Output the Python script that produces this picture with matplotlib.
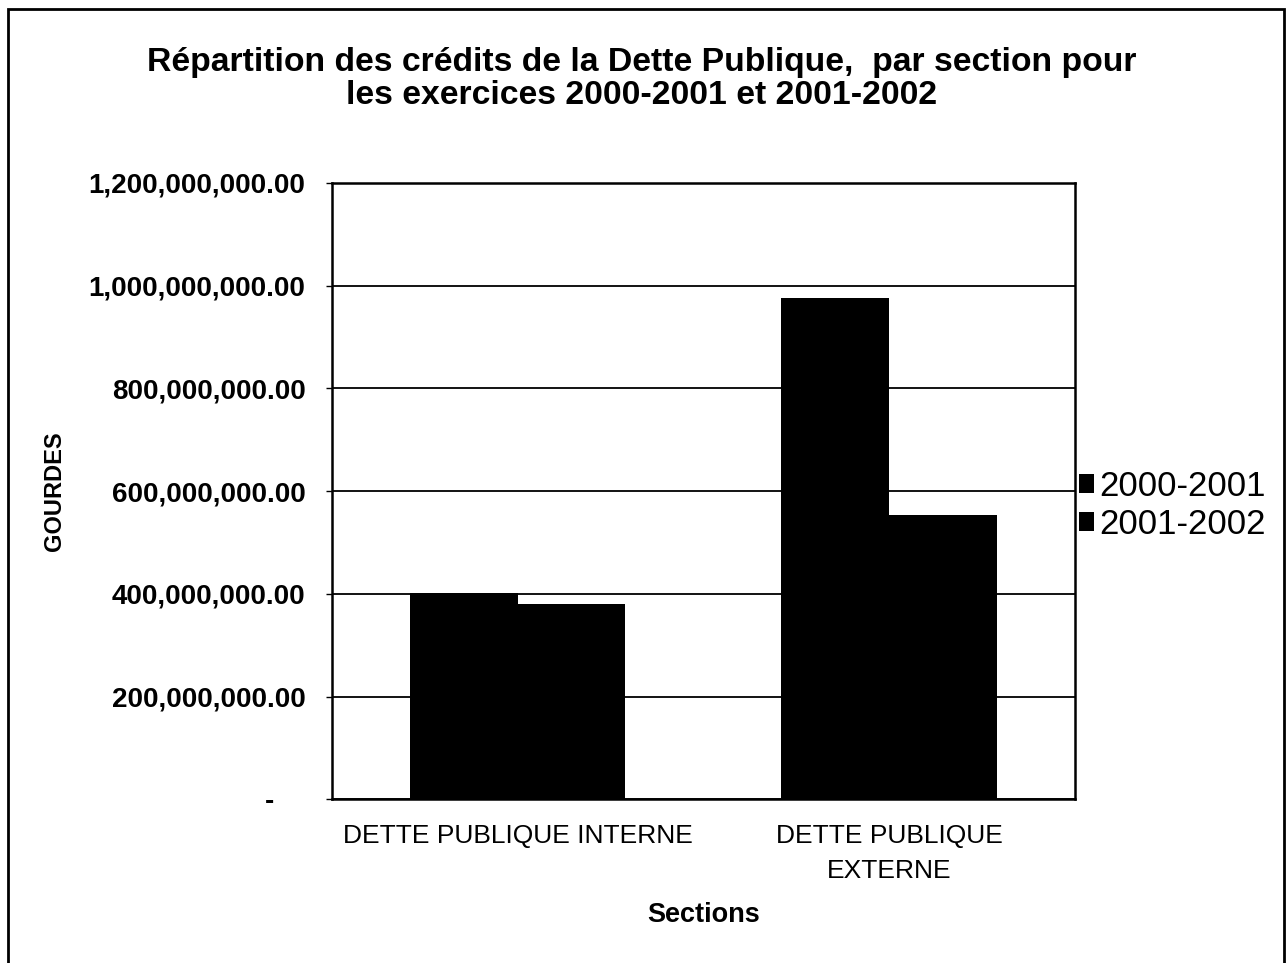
import numpy as np
import matplotlib
matplotlib.use("Agg")
import matplotlib.pyplot as plt
from matplotlib.ticker import FuncFormatter, MultipleLocator
from matplotlib.patches import Rectangle

plt.rcParams['font.family'] = ['Liberation Sans', 'DejaVu Sans']

# credits par section (gourdes)
sections = ['DETTE PUBLIQUE INTERNE', 'DETTE PUBLIQUE\nEXTERNE']
exercices = ['2000-2001', '2001-2002']
credits_2000_2001 = [402000000, 977000000]
credits_2001_2002 = [381000000, 553000000]

fig = plt.figure(figsize=(12.86, 9.63), dpi=100)
ax = fig.add_axes([0.258, 0.170, 0.578, 0.640])

x = np.arange(len(sections))
width = 0.29
ax.bar(x - width / 2, credits_2000_2001, width, color='black', label=exercices[0], zorder=3)
ax.bar(x + width / 2, credits_2001_2002, width, color='black', label=exercices[1], zorder=3)

ax.set_xlim(-0.5, 1.5)
ax.set_ylim(0, 1200000000)
ax.yaxis.set_major_locator(MultipleLocator(200000000))


def fmt_gourdes(v, pos):
    if v == 0:
        return '-    '
    return '{:,.2f}'.format(v)


ax.yaxis.set_major_formatter(FuncFormatter(fmt_gourdes))
ax.yaxis.grid(True, color='black', linewidth=1.3, zorder=0)

for s in ax.spines.values():
    s.set_linewidth(1.8)
    s.set_color('black')

ax.tick_params(axis='y', length=4, width=1, pad=15, labelsize=20)
ax.tick_params(axis='x', length=0, pad=18, labelsize=19)
for lbl in ax.get_yticklabels():
    lbl.set_fontweight('bold')
ax.set_xticks(x)
ax.set_xticklabels(sections, linespacing=1.55)

ax.set_ylabel('GOURDES', fontsize=17, fontweight='bold', labelpad=16)
ax.set_xlabel('Sections', fontsize=19.5, fontweight='bold', labelpad=14)

fig.suptitle('Répartition des crédits de la Dette Publique,  par section pour\n'
             'les exercices 2000-2001 et 2001-2002',
             x=0.499, y=0.951, fontsize=24.3, fontweight='bold', linespacing=1.08)

ax.legend(loc='upper left', bbox_to_anchor=(1.0, 0.540), frameon=False,
          fontsize=25, handlelength=0.45, handleheight=0.45, handletextpad=0.15,
          labelspacing=0.15, borderaxespad=0.0, borderpad=0.1)

# cadre autour du graphique
fig.patches.append(Rectangle((8 / 1286, -0.01), 1276 / 1286, 1 - 9 / 963 + 0.01,
                             transform=fig.transFigure, fill=False,
                             edgecolor='black', linewidth=2))

fig.savefig('out.png', dpi=100)
